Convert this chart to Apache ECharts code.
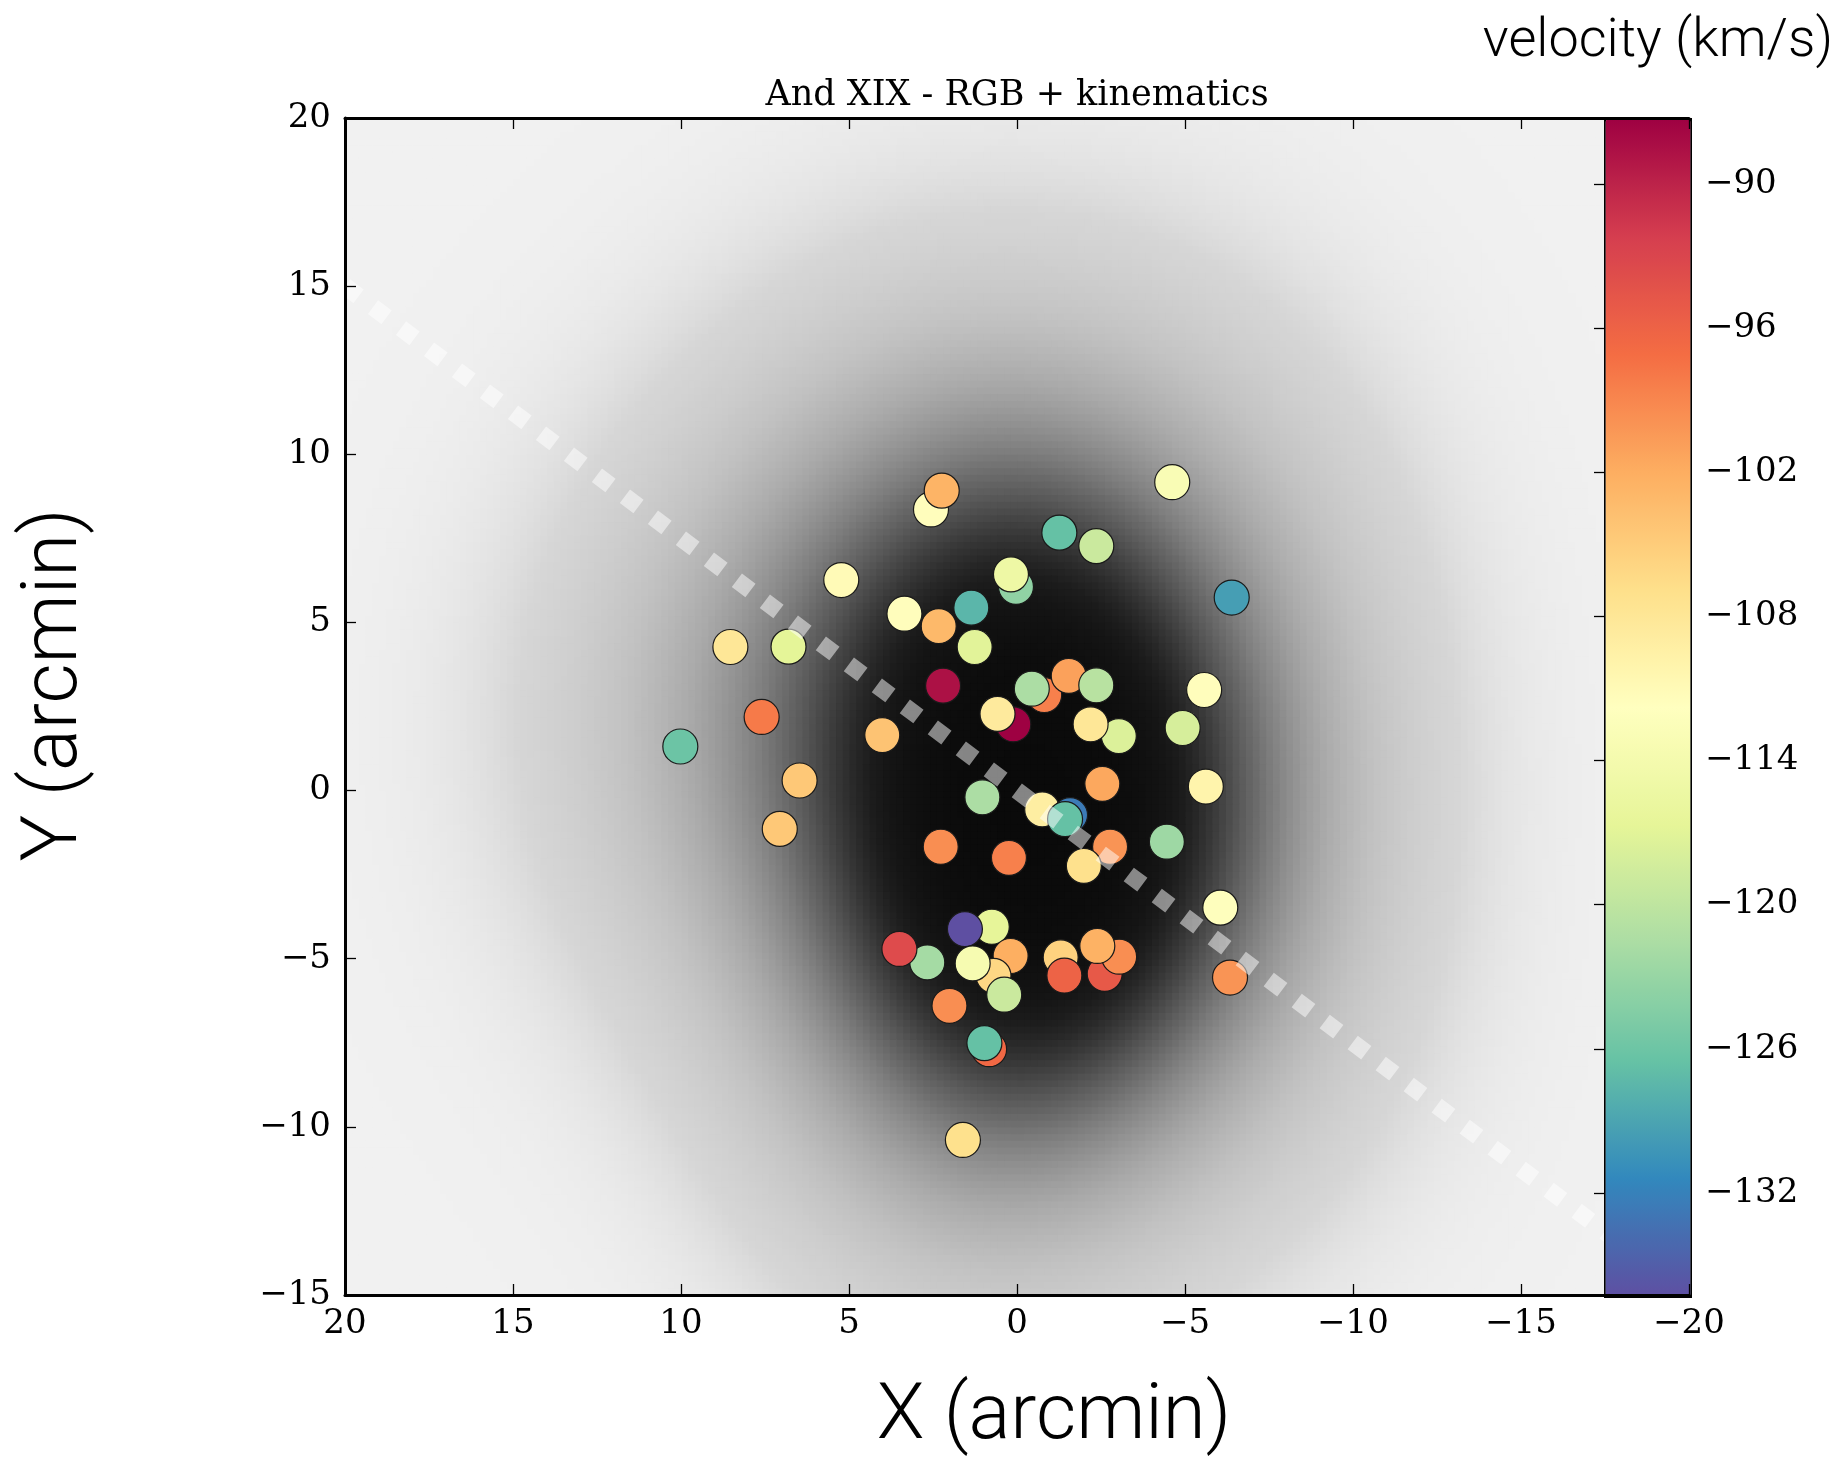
<!DOCTYPE html>
<html><head><meta charset="utf-8">
<script src="https://cdn.jsdelivr.net/npm/echarts@6/dist/echarts.min.js"></script>
<style>html,body{margin:0;padding:0;background:#fff}#c{width:1845px;height:1461px}</style>
</head><body><div id="c"></div>
<script>
// ---- data (X, Y in arcmin; velocity in km/s), in drawing order ----
const starX = [-4.62, 2.56, 2.24, -1.26, -2.36, 5.23, 0.03, 0.18, -6.39, 1.36, 3.35, 2.33, 1.26, 8.53, 6.80,
  -0.81, -1.54, -0.44, -2.36, -5.57, 2.20, 7.60, 0.11, 0.58, -3.03, -2.19, -4.93, 4.01, 10.02, 6.47,
  -2.54, -5.62, 1.03, -0.75, -1.58, -1.43, 7.06, 2.27, -2.77, -4.46, 0.24, -1.99, -6.05, 0.75, 1.55,
  2.67, 3.50, 0.19, 0.70, 1.32, 0.38, -1.30, -1.41, -2.61, -3.04, -2.39, 2.01, -6.34, 0.83, 0.97, 1.61];
const starY = [9.17, 8.36, 8.92, 7.67, 7.27, 6.26, 6.06, 6.43, 5.74, 5.44, 5.26, 4.89, 4.27, 4.27, 4.28,
  2.84, 3.41, 3.03, 3.13, 2.99, 3.12, 2.19, 1.97, 2.28, 1.62, 1.97, 1.86, 1.65, 1.31, 0.30,
  0.20, 0.12, -0.20, -0.56, -0.73, -0.85, -1.14, -1.67, -1.67, -1.52, -2.00, -2.24, -3.48, -4.05, -4.12,
  -5.11, -4.71, -4.92, -5.51, -5.14, -6.07, -4.96, -5.50, -5.45, -4.94, -4.62, -6.40, -5.56, -7.69, -7.51, -10.39];
const starVel = [-113, -111.5, -102.5, -126.5, -119, -111, -123.5, -115, -129.5, -127.5, -111.5, -103, -117, -108, -116.7,
  -98.5, -101, -121.5, -120.5, -111.5, -88.5, -98, -87.25, -108.5, -117.5, -108, -118, -104, -126, -104.5,
  -101.5, -110, -121.5, -109, -132.5, -126.5, -104.5, -99.5, -100, -122.5, -98.5, -107, -112, -116.5, -136.25,
  -122, -93.5, -102, -106, -113.5, -119, -105.5, -96, -95, -99.5, -102.3, -99.5, -100, -96.5, -126.5, -107];

// dashed major-axis line end points
const lineX = [20, -20];
const lineY = [15, -15];

// colour scale limits and colourbar ticks
const velMin = -136.25, velMax = -87.25;
const cbarTicks = [-132, -126, -120, -114, -108, -102, -96, -90];

// ---- styling ----
const spectralR = ['#5e4fa2','#3288bd','#66c2a5','#abdda4','#e6f598','#ffffbf','#fee08b','#fdae61','#f46d43','#d53e4f','#9e0142'];
const grays = ['#f1f1f1','#d6d6d6','#cccccc','#c2c2c2','#b6b6b6','#aaaaaa','#9c9c9c','#8d8d8d','#7d7d7d','#6b6b6b','#5a5a5a',
  '#484848','#373737','#282828','#1c1c1c','#151515','#111111','#0e0e0e','#0c0c0c','#0b0b0b','#0a0a0a'];

// background: kernel density estimate of the stars
const cell = 0.2, bwX = 4.2, bwY = 5.2;
const bg = [];
let dmax = 0;
for (let i = 0; i < 200; i++) {
  const x = -20 + cell * (i + 0.5);
  for (let j = 0; j < 175; j++) {
    const y = -15 + cell * (j + 0.5);
    let d = 0;
    for (let k = 0; k < starX.length; k++) {
      const dx = (x - starX[k]) / bwX, dy = (y - starY[k]) / bwY;
      d += Math.exp(-0.5 * (dx * dx + dy * dy));
    }
    if (d > dmax) dmax = d;
    bg.push([x, y, d]);
  }
}
bg.forEach(p => { p[2] = p[2] / dmax; });

const stars = starX.map((x, i) => [x, starY[i], starVel[i]]);
const line = lineX.map((x, i) => [x, lineY[i]]);

const fmt = v => String(v).replace('-', '\u2212');
const tickFont = { color: '#000', fontFamily: 'DejaVu Serif', fontSize: 34 };

const chart = echarts.init(document.getElementById('c'), null, { renderer: 'canvas' });
chart.setOption({
  animation: false,
  backgroundColor: '#fff',
  grid: [
    { left: 345, top: 118, width: 1344, height: 1177, containLabel: false },
    { left: 1604, top: 118, width: 85, height: 1177, containLabel: false }
  ],
  xAxis: [
    { gridIndex: 0, type: 'value', min: -20, max: 20, interval: 5, inverse: true, position: 'bottom', z: 5,
      axisLine: { show: true, onZero: false, lineStyle: { color: '#000', width: 3 } },
      axisTick: { show: true, inside: true, length: 11, lineStyle: { color: '#000', width: 1.3 } },
      axisLabel: Object.assign({ margin: 12, formatter: fmt, showMinLabel: true, showMaxLabel: true, hideOverlap: false }, tickFont),
      splitLine: { show: false } },
    { gridIndex: 0, type: 'value', min: -20, max: 20, interval: 5, inverse: true, position: 'top', z: 5,
      axisLine: { show: true, onZero: false, lineStyle: { color: '#000', width: 3 } },
      axisTick: { show: true, inside: true, length: 11, lineStyle: { color: '#000', width: 1.3 } },
      axisLabel: { show: false }, splitLine: { show: false } },
    { gridIndex: 1, type: 'value', min: 0, max: 1, show: false }
  ],
  yAxis: [
    { gridIndex: 0, type: 'value', min: -15, max: 20, interval: 5, position: 'left', z: 5,
      axisLine: { show: true, onZero: false, lineStyle: { color: '#000', width: 3 } },
      axisTick: { show: true, inside: true, length: 11, lineStyle: { color: '#000', width: 1.3 } },
      axisLabel: Object.assign({ margin: 14, formatter: fmt, showMinLabel: true, showMaxLabel: true, hideOverlap: false }, tickFont),
      splitLine: { show: false } },
    { gridIndex: 1, type: 'value', min: velMin, max: velMax, position: 'right', z: 10,
      axisLine: { show: false },
      axisTick: { show: true, inside: true, length: 10, customValues: cbarTicks, lineStyle: { color: '#000', width: 1.3 } },
      axisLabel: Object.assign({ margin: 16, formatter: fmt, customValues: cbarTicks }, tickFont),
      splitLine: { show: false } }
  ],
  visualMap: [
    { type: 'continuous', seriesIndex: 1, dimension: 2, min: velMin, max: velMax, show: true, calculable: false,
      hoverLink: false, left: 1604, top: 118, itemWidth: 85, itemHeight: 1177, padding: 0,
      borderColor: '#000', borderWidth: 3, inRange: { color: spectralR }, z: 4 },
    { type: 'continuous', seriesIndex: 0, dimension: 2, min: 0, max: 1, show: false, inRange: { color: grays } }
  ],
  series: [
    { type: 'custom', xAxisIndex: 0, yAxisIndex: 0, z: 1, silent: true, clip: true,
      progressive: 0, progressiveThreshold: 1e9,
      encode: { x: 0, y: 1 }, data: bg,
      renderItem: function (params, api) {
        const x = api.value(0), y = api.value(1);
        const p1 = api.coord([x + cell / 2, y + cell / 2]);
        const p2 = api.coord([x - cell / 2, y - cell / 2]);
        return { type: 'rect',
          shape: { x: Math.min(p1[0], p2[0]) - 0.5, y: Math.min(p1[1], p2[1]) - 0.5,
                   width: Math.abs(p2[0] - p1[0]) + 1, height: Math.abs(p2[1] - p1[1]) + 1 },
          style: { fill: api.visual('color') } };
      } },
    { type: 'scatter', xAxisIndex: 0, yAxisIndex: 0, z: 2, silent: true, symbol: 'circle', symbolSize: 35,
      itemStyle: { borderColor: '#1a1a1a', borderWidth: 1.2, opacity: 1 }, data: stars },
    { type: 'line', xAxisIndex: 0, yAxisIndex: 0, z: 3, silent: true, symbol: 'none', clip: true, data: line,
      lineStyle: { color: 'rgba(255,255,255,0.5)', width: 17, type: [17, 18], cap: 'butt' } }
  ],
  graphic: [
    { type: 'text', x: 1017, y: 96, silent: true,
      style: { text: 'And XIX - RGB + kinematics', font: '35px "DejaVu Serif"', fill: '#000', textAlign: 'center', textVerticalAlign: 'middle', verticalAlign: 'middle' } },
    { type: 'text', x: 1054, y: 1418, silent: true,
      style: { text: 'X (arcmin)', font: '300 78px Roboto', fill: '#000', textAlign: 'center', textVerticalAlign: 'middle', verticalAlign: 'middle' } },
    { type: 'text', x: 56, y: 685, rotation: Math.PI / 2, silent: true,
      style: { text: 'Y (arcmin)', font: '300 78px Roboto', fill: '#000', textAlign: 'center', textVerticalAlign: 'middle', verticalAlign: 'middle' } },
    { type: 'text', x: 1833, y: 42, silent: true,
      style: { text: 'velocity (km/s)', font: '300 54px Roboto', fill: '#000', textAlign: 'right', textVerticalAlign: 'middle', verticalAlign: 'middle' } }
  ]
});
</script></body></html>
